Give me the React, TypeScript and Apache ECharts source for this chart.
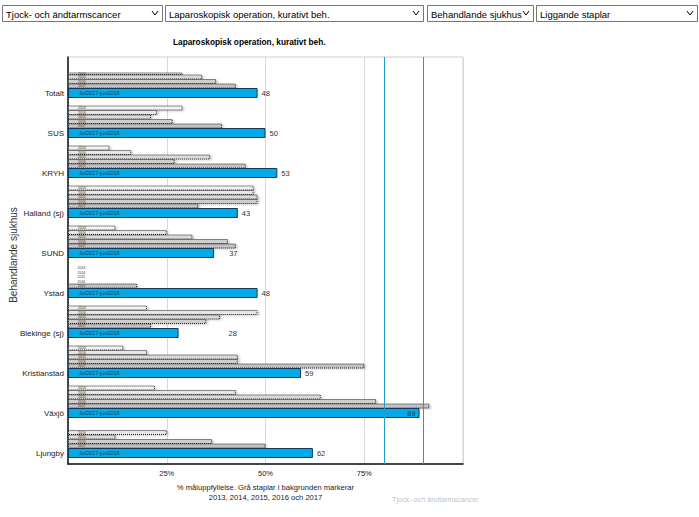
import React, { useEffect, useRef } from 'react';
import * as echarts from 'echarts';

const FONT = 'Liberation Sans, Arial, sans-serif';

const categories = ['Totalt', 'SUS', 'KRYH', 'Halland (sj)', 'SUND', 'Ystad', 'Blekinge (sj)', 'Kristianstad', 'Växjö', 'Ljungby'];
const years = ['2013', '2014', '2015', '2016', '2017'];
const v2013 = [23.5, 29, 10.5, 47, 12, 0, 20, 14, 22, null];
const v2014 = [29, 22.5, 16, 47, 25, 0, 48, 20, 42.5, 25];
const v2015 = [34, 21, 36, 48, 31.5, 0, 38.5, 43, 64, 12];
const v2016 = [37.5, 26.5, 27, 48, 40.5, 0, 35, 43, 78, 36.5];
const v2017 = [42.5, 39, 45, 33, 42.5, 17.5, 21, 75, 91.5, 50];
const current = [48, 50, 53, 43, 37, 48, 28, 59, 89, 62];
const currentPeriod = 'Jul2017-jun2018';
const targetLevels = [80, 90];
const xTickLabels = [25, 50, 75];
const dropdowns = ['Tjock- och ändtarmscancer', 'Laparoskopisk operation, kurativt beh.', 'Behandlande sjukhus', 'Liggande staplar'];
const titleText = 'Laparoskopisk operation, kurativt beh.';
const xName = '% måluppfyllelse. Grå staplar i bakgrunden markerar\n2013, 2014, 2015, 2016 och 2017';
const yName = 'Behandlande sjukhus';
const watermark = 'Tjock- och ändtarmscancer';

const yearValues = [v2013, v2014, v2015, v2016, v2017];
const yearColors = ['#f2f2f2', '#e6e6e6', '#dadada', '#cecece', '#c3c3c3'];
const ddBoxes = [
  [2, 160],
  [165, 258],
  [427, 106],
  [536, 161],
];

export default function App() {
  const ref = useRef<HTMLDivElement>(null);
  useEffect(() => {
    if (!ref.current) return;
    const chart = echarts.init(ref.current, undefined, { renderer: 'svg' });

    const graySeries = years.map((yr, i) => ({
      type: 'bar',
      name: yr,
      xAxisIndex: 1,
      yAxisIndex: 1,
      data: yearValues[i],
      barWidth: 5,
      barGap: '-10%',
      itemStyle: {
        color: yearColors[i],
        borderColor: '#222',
        borderWidth: 1,
        borderType: 'dotted',
        shadowColor: 'rgba(0,0,0,0.2)',
        shadowBlur: 2,
        shadowOffsetX: 2,
        shadowOffsetY: 1,
      },
      label: {
        show: true,
        position: 'insideLeft',
        distance: 10,
        formatter: yr,
        fontSize: 3.5,
        color: '#333',
        fontFamily: FONT,
      },
      silent: true,
    }));

    const labelData = current.map((v, i) => {
      const item: any = { value: 0 };
      if (categories[i] === 'SUND') item.label = { offset: [11, 0] };
      if (categories[i] === 'Blekinge (sj)') item.label = { offset: [46, 0] };
      if (categories[i] === 'Växjö') item.label = { position: 'left', distance: 4 };
      return item;
    });

    const graphics: any[] = [];
    dropdowns.forEach((t, i) => {
      const [x, w] = ddBoxes[i];
      const y = 5;
      const h = 16;
      graphics.push({
        type: 'rect',
        shape: { x: x + 0.5, y: y + 0.5, width: w, height: h },
        style: { fill: '#fff', stroke: '#767676', lineWidth: 1 },
      });
      graphics.push({
        type: 'text',
        x: x + 4,
        y: y + h / 2 + 1,
        style: { text: t, font: `9.5px ${FONT}`, fill: '#000', verticalAlign: 'middle' },
      });
      graphics.push({
        type: 'polyline',
        shape: { points: [[x + w - 10, y + 6], [x + w - 7, y + 10], [x + w - 4, y + 6]] },
        style: { stroke: '#000', lineWidth: 1, fill: 'none' },
      });
    });
    graphics.push({
      type: 'text',
      x: 13,
      y: 255,
      rotation: Math.PI / 2,
      style: { text: yName, font: `10px ${FONT}`, fill: '#333', align: 'center', verticalAlign: 'middle' },
    });
    graphics.push({
      type: 'text',
      x: 392,
      y: 499,
      style: { text: watermark, font: `7.2px ${FONT}`, fill: '#c4c4c4', verticalAlign: 'middle' },
    });

    const option: any = {
      animation: false,
      textStyle: { fontFamily: FONT },
      title: {
        text: titleText,
        left: 168,
        top: 33,
        textStyle: { fontSize: 8.3, fontWeight: 'bold', color: '#000', fontFamily: FONT },
      },
      grid: [
        { left: 68, right: 236, top: 57, bottom: 53, show: true, borderColor: '#cfcfcf', borderWidth: 1, outerBoundsMode: 'none' },
        { left: 68, right: 236, top: 73, height: 400, outerBoundsMode: 'none' },
      ],
      xAxis: [
        {
          type: 'value',
          gridIndex: 0,
          min: 0,
          max: 100,
          interval: 25,
          axisLine: { show: true, lineStyle: { color: '#111', width: 1.5 } },
          axisTick: { show: false },
          splitLine: { show: true, lineStyle: { color: '#d9d9d9', width: 1 } },
          axisLabel: {
            fontSize: 7.5,
            color: '#222',
            margin: 5,
            formatter: (v: number) => (xTickLabels.indexOf(v) >= 0 ? v + '%' : ''),
          },
          name: xName,
          nameLocation: 'middle',
          nameGap: 19,
          nameTextStyle: { fontSize: 7.6, color: '#222', lineHeight: 9.5, verticalAlign: 'top' },
        },
        {
          type: 'value',
          gridIndex: 1,
          min: 0,
          max: 100,
          show: false,
        },
      ],
      yAxis: [
        {
          type: 'value',
          gridIndex: 0,
          min: 0,
          max: 1,
          position: 'right',
          axisLine: { show: true, lineStyle: { color: '#111', width: 1.5 } },
          axisTick: { show: false },
          axisLabel: { show: false },
          splitLine: { show: false },
        },
        {
          type: 'category',
          gridIndex: 1,
          data: categories,
          inverse: true,
          axisLine: { show: false },
          axisTick: { show: false },
          splitLine: { show: false },
          axisLabel: { fontSize: 8, color: '#222', margin: 4 },
        },
      ],
      graphic: graphics,
      series: [
        {
          type: 'line',
          xAxisIndex: 0,
          yAxisIndex: 0,
          data: [[0, 0]],
          symbol: 'none',
          lineStyle: { opacity: 0 },
          silent: true,
          markLine: {
            silent: true,
            symbol: ['none', 'none'],
            label: { show: false },
            lineStyle: { color: '#1f9bcf', width: 1, type: 'solid' },
            data: targetLevels.map((t) => ({ xAxis: t })),
          },
        },
        ...graySeries,
        {
          type: 'bar',
          name: currentPeriod,
          xAxisIndex: 1,
          yAxisIndex: 1,
          stack: 'cur',
          data: current,
          barWidth: 10,
          barGap: '-10%',
          itemStyle: { color: '#06a9e8', borderColor: '#123a5c', borderWidth: 1 },
          label: {
            show: true,
            position: 'insideLeft',
            distance: 11,
            formatter: currentPeriod,
            fontSize: 5.5,
            color: '#16396a',
          },
          silent: true,
        },
        {
          type: 'bar',
          name: 'values',
          xAxisIndex: 1,
          yAxisIndex: 1,
          stack: 'cur',
          data: labelData,
          barWidth: 10,
          barGap: '-10%',
          itemStyle: { color: 'transparent', borderWidth: 0 },
          label: {
            show: true,
            position: 'right',
            distance: 4,
            fontSize: 7.5,
            color: '#333',
            formatter: (p: any) => String(current[p.dataIndex]),
          },
          silent: true,
        },
        {
          type: 'bar',
          name: 'spacer',
          xAxisIndex: 1,
          yAxisIndex: 1,
          data: current.map(() => 0),
          barWidth: 23.5,
          barGap: '-10%',
          itemStyle: { color: 'transparent', borderWidth: 0 },
          silent: true,
        },
      ],
    };
    chart.setOption(option);
    return () => chart.dispose();
  }, []);
  return <div ref={ref} style={{ position: 'fixed', left: 0, top: 0, width: 699, height: 517, background: '#fff' }} />;
}
